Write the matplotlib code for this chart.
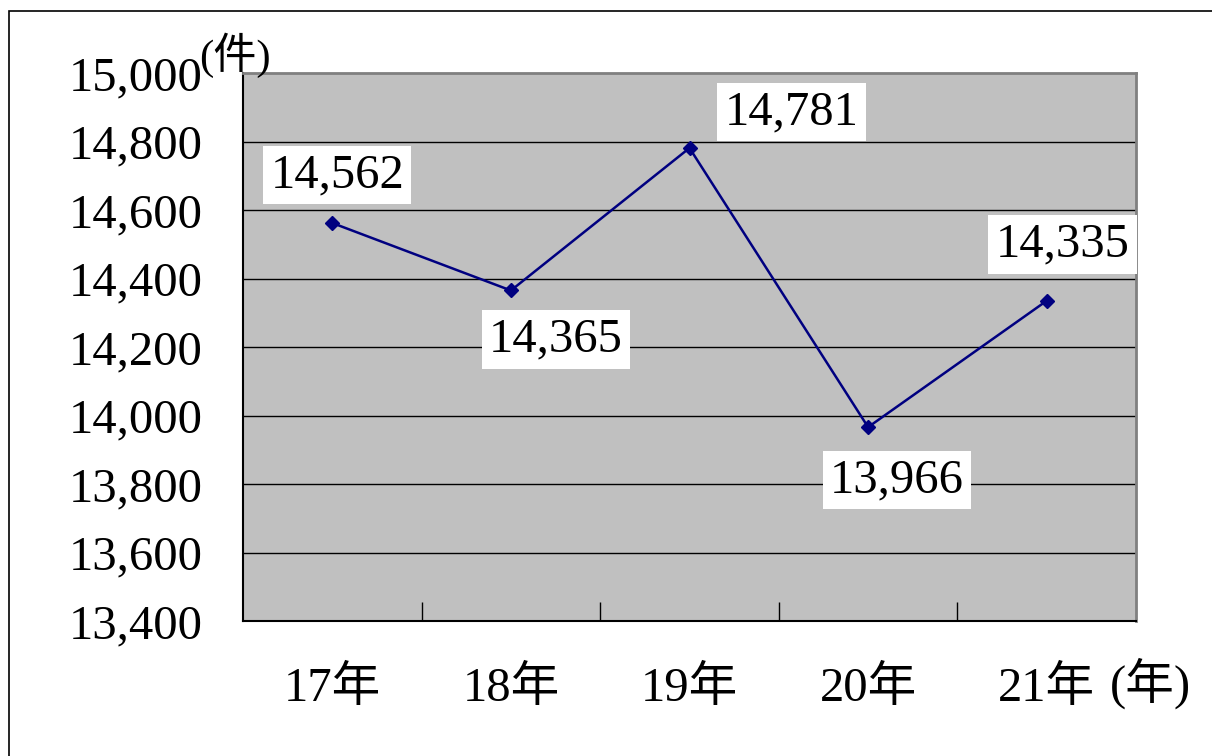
import matplotlib
matplotlib.use("Agg")
import matplotlib.pyplot as plt
from matplotlib.patches import Rectangle

categories = ["17年", "18年", "19年", "20年", "21年"]
values = [14562, 14365, 14781, 13966, 14335]
yticks = [13400, 13600, 13800, 14000, 14200, 14400, 14600, 14800, 15000]

# label offsets in pixels (style only)
label_offsets = [(5, 48), (45, -49), (102, 36), (29, -53), (16, 56)]

FONT = ["Liberation Serif", "Noto Sans CJK JP"]
plt.rcParams["font.family"] = FONT
FS = 35

fig = plt.figure(figsize=(12.12, 7.56), dpi=100)
fig.patch.set_facecolor("white")
fig.add_artist(Rectangle((9 / 1212, -0.05), 1.2, 1 - 11 / 756 + 0.05,
                         transform=fig.transFigure, fill=False,
                         edgecolor="black", linewidth=1.2, clip_on=False))

ax = fig.add_axes([243 / 1212, 1 - 621 / 756, (1136 - 243) / 1212, (621 - 73) / 756])
ax.set_facecolor("#C0C0C0")

x = list(range(len(categories)))
ax.plot(x, values, color="#000080", linewidth=1.8, marker="D", markersize=7,
        markerfacecolor="#000080", markeredgecolor="#000080", zorder=3)

ax.set_xlim(-0.5, len(categories) - 0.5)
ax.set_ylim(yticks[0], yticks[-1])
ax.set_yticks(yticks)
ax.set_yticklabels([f"{v:,}" for v in yticks])
ax.set_xticks(x)
ax.set_xticklabels(categories)
ax.set_xticks([i + 0.5 for i in x[:-1]], minor=True)

for v in yticks[1:-1]:
    ax.axhline(v, color="black", linewidth=1.0, zorder=1)

ax.tick_params(axis="x", which="major", length=0, pad=32, labelsize=FS)
ax.tick_params(axis="x", which="minor", direction="in", length=14, width=1.0, color="black")
ax.tick_params(axis="y", direction="in", length=0, pad=29, labelsize=FS)

for side in ["left", "bottom"]:
    ax.spines[side].set_color("black")
    ax.spines[side].set_linewidth(1.5)
for side in ["top", "right"]:
    ax.spines[side].set_color("#808080")
    ax.spines[side].set_linewidth(2.0)

for xi, v, (dx, dy) in zip(x, values, label_offsets):
    ax.annotate(f"{v:,}", xy=(xi, v), xytext=(dx * 0.72, dy * 0.72),
                textcoords="offset points", ha="center", va="center",
                fontsize=FS, color="black", zorder=4,
                bbox=dict(boxstyle="square,pad=0.15", facecolor="white", edgecolor="none"))

fig.text(235 / 1212, 1 - 55 / 756, "(件)", ha="center", va="center", fontsize=31)
fig.text(1150 / 1212, 1 - 683 / 756, "(年)", ha="center", va="center", fontsize=FS)

fig.savefig("out.png", dpi=100)
